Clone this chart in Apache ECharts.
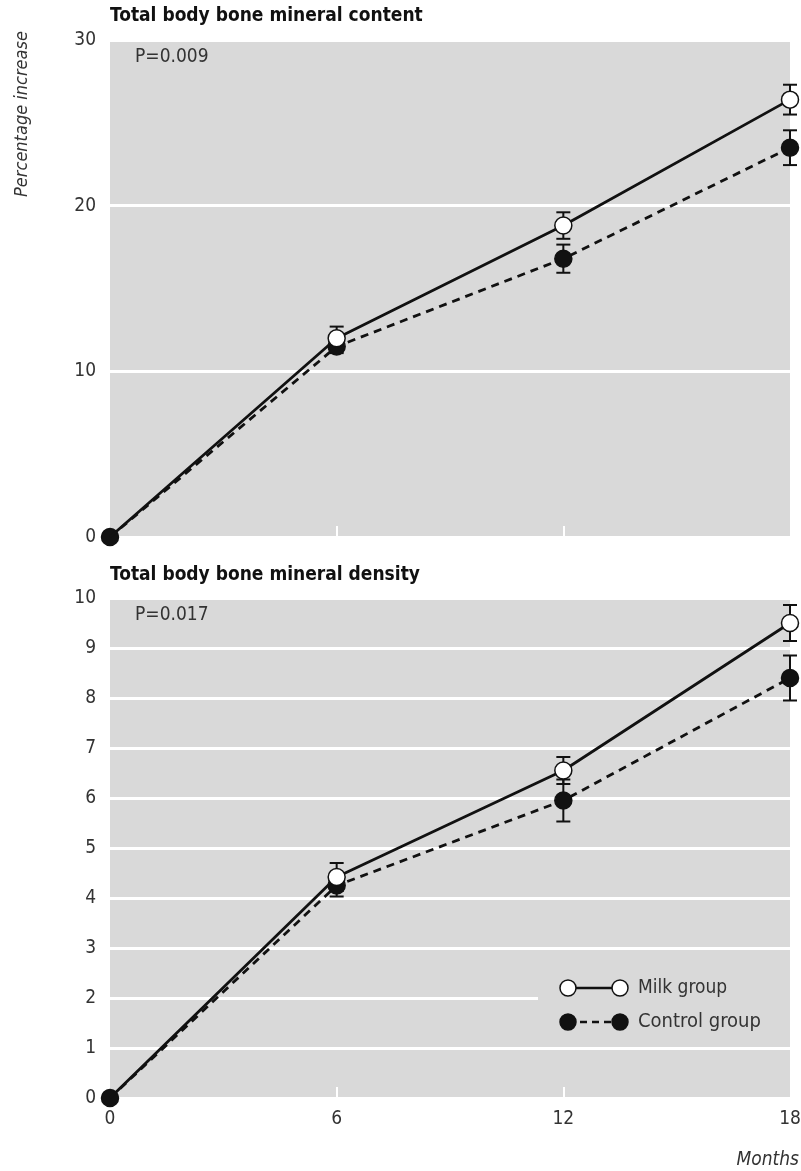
<!DOCTYPE html>
<html>
<head>
<meta charset="utf-8">
<script src="https://cdn.jsdelivr.net/npm/echarts@6/dist/echarts.min.js"></script>
<style>html,body{margin:0;padding:0;background:#fff;}#c{width:801px;height:1171px;}</style>
</head>
<body>
<div id="c"></div>
<script>
const months = [0, 6, 12, 18];
const xTicks = ['0', '6', '12', '18'];
const bmcMilk = [0, 12.0, 18.8, 26.4];
const bmcMilkErr = [0, 0.7, 0.8, 0.9];
const bmcControl = [0, 11.5, 16.8, 23.5];
const bmcControlErr = [0, 0.4, 0.85, 1.05];
const bmdMilk = [0, 4.42, 6.55, 9.5];
const bmdMilkErr = [0, 0.28, 0.27, 0.36];
const bmdControl = [0, 4.25, 5.95, 8.4];
const bmdControlErr = [0, 0.22, 0.42, 0.45];

const FONT = '"Liberation Sans Narrow","DejaVu Sans Condensed","Liberation Sans",sans-serif';
const GRAY = '#d9d9d9';
const INK = '#111';

function pts(vals, hideFirst) {
  return months.map((m, i) => (i === 0 && hideFirst) ? { value: [m, vals[i]], symbol: 'none' } : [m, vals[i]]);
}
function errs(vals, e) { return months.map((m, i) => [m, vals[i], e[i]]); }

function errRender(params, api) {
  const x = api.value(0), y = api.value(1), e = api.value(2);
  if (!e) return null;
  const t = api.coord([x, y + e]), b = api.coord([x, y - e]);
  const w = 7;
  const st = { stroke: INK, lineWidth: 2 };
  return { type: 'group', children: [
    { type: 'line', shape: { x1: t[0], y1: t[1], x2: b[0], y2: b[1] }, style: st },
    { type: 'line', shape: { x1: t[0] - w, y1: t[1], x2: t[0] + w, y2: t[1] }, style: st },
    { type: 'line', shape: { x1: b[0] - w, y1: b[1], x2: b[0] + w, y2: b[1] }, style: st }
  ]};
}

function xAxis(gi, showLabels) {
  return {
    type: 'value', gridIndex: gi, min: 0, max: 18, interval: 6,
    axisLine: { show: false },
    axisTick: { show: true, inside: true, length: 11, customValues: [6, 12], lineStyle: { color: '#fff', width: 2 } },
    splitLine: { show: false },
    axisLabel: { show: showLabels, color: '#333', fontFamily: FONT, fontSize: 19, margin: 12,
      formatter: v => xTicks[months.indexOf(v)] }
  };
}
function yAxis(gi, max, interval) {
  return {
    type: 'value', gridIndex: gi, min: 0, max: max, interval: interval,
    axisLine: { show: false }, axisTick: { show: false },
    splitLine: { show: true, lineStyle: { color: '#fff', width: 3 } },
    axisLabel: { color: '#333', fontFamily: FONT, fontSize: 19, margin: 14 }
  };
}

function lineSeries(name, gi, vals, milk, hideFirst) {
  return {
    type: 'line', name: name, xAxisIndex: gi, yAxisIndex: gi, data: pts(vals, hideFirst),
    symbol: 'circle', symbolSize: 17, z: milk ? 5 : 4,
    lineStyle: { color: INK, width: 2.8, type: milk ? 'solid' : [8, 6] },
    itemStyle: { color: milk ? '#fff' : INK, borderColor: INK, borderWidth: 1.5 },
    emphasis: { disabled: true }, animation: false
  };
}
function errSeries(gi, vals, e) {
  return { type: 'custom', xAxisIndex: gi, yAxisIndex: gi, data: errs(vals, e),
    encode: { x: 0, y: 1 }, renderItem: errRender, z: 3, animation: false };
}

const chart = echarts.init(document.getElementById('c'));
const LX = 568, RX = 620;
chart.setOption({
  animation: false,
  grid: [
    { left: 110, right: 11, top: 40, height: 497, show: true, backgroundColor: GRAY, borderWidth: 0, containLabel: false, outerBoundsMode: 'none' },
    { left: 110, right: 11, top: 598, height: 500, show: true, backgroundColor: GRAY, borderWidth: 0, containLabel: false, outerBoundsMode: 'none' }
  ],
  xAxis: [xAxis(0, false), xAxis(1, true)],
  yAxis: [yAxis(0, 30, 10), yAxis(1, 10, 1)],
  series: [
    errSeries(0, bmcControl, bmcControlErr),
    errSeries(0, bmcMilk, bmcMilkErr),
    lineSeries('Milk group', 0, bmcMilk, true, true),
    lineSeries('Control group', 0, bmcControl, false, false),
    errSeries(1, bmdControl, bmdControlErr),
    errSeries(1, bmdMilk, bmdMilkErr),
    lineSeries('Milk group', 1, bmdMilk, true, true),
    lineSeries('Control group', 1, bmdControl, false, false)
  ],
  graphic: [
    { type: 'text', x: 110, y: 16, style: { text: 'Total body bone mineral content', font: 'bold 19px ' + FONT, fill: INK, verticalAlign: 'middle' } },
    { type: 'text', x: 110, y: 575, style: { text: 'Total body bone mineral density', font: 'bold 19px ' + FONT, fill: INK, verticalAlign: 'middle' } },
    { type: 'text', x: 135, y: 57, style: { text: 'P=0.009', font: '19px ' + FONT, fill: '#333', verticalAlign: 'middle' } },
    { type: 'text', x: 135, y: 615, style: { text: 'P=0.017', font: '19px ' + FONT, fill: '#333', verticalAlign: 'middle' } },
    { type: 'text', x: 22, y: 114, rotation: Math.PI / 2, style: { text: 'Percentage increase', font: 'italic 18px ' + FONT, fill: '#333', align: 'center', verticalAlign: 'middle' } },
    { type: 'text', x: 799, y: 1160, style: { text: 'Months', font: 'italic 19px ' + FONT, fill: '#333', align: 'right', verticalAlign: 'middle' } },
    { type: 'rect', shape: { x: 538, y: 968, width: 252, height: 76 }, style: { fill: GRAY }, z: 10 },
    { type: 'line', shape: { x1: LX, y1: 988, x2: RX, y2: 988 }, style: { stroke: INK, lineWidth: 2.5 }, z: 11 },
    { type: 'circle', shape: { cx: LX, cy: 988, r: 8 }, style: { fill: '#fff', stroke: INK, lineWidth: 1.5 }, z: 12 },
    { type: 'circle', shape: { cx: RX, cy: 988, r: 8 }, style: { fill: '#fff', stroke: INK, lineWidth: 1.5 }, z: 12 },
    { type: 'line', shape: { x1: LX, y1: 1022, x2: RX, y2: 1022 }, style: { stroke: INK, lineWidth: 2.5, lineDash: [7, 5] }, z: 11 },
    { type: 'circle', shape: { cx: LX, cy: 1022, r: 8 }, style: { fill: INK, stroke: INK, lineWidth: 1.5 }, z: 12 },
    { type: 'circle', shape: { cx: RX, cy: 1022, r: 8 }, style: { fill: INK, stroke: INK, lineWidth: 1.5 }, z: 12 },
    { type: 'text', x: 638, y: 988, style: { text: 'Milk group', font: '19px ' + FONT, fill: '#333', verticalAlign: 'middle' }, z: 12 },
    { type: 'text', x: 638, y: 1022, style: { text: 'Control group', font: '20px ' + FONT, fill: '#333', verticalAlign: 'middle' }, z: 12 }
  ]
});
</script>
</body>
</html>
